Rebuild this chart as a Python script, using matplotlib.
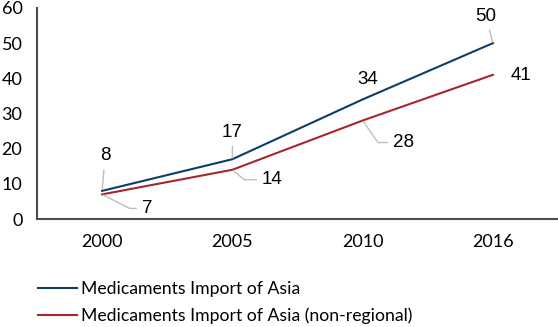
import numpy as np
import matplotlib
matplotlib.use("Agg")
from matplotlib import pyplot as plt

# data
years = ["2000", "2005", "2010", "2016"]
asia_total = [8, 17, 34, 50]
asia_non_regional = [7, 14, 28, 41]
series_names = ["Medicaments Import of Asia",
                "Medicaments Import of Asia (non-regional)"]

BLUE = "#0f3d66"
RED = "#a6262b"
LEADER = "#bfbfbf"
AXIS = "#4d4d4d"
TICK_FONT = "Lato"
LABEL_FONT = "Liberation Sans"

fig = plt.figure(figsize=(5.58, 3.27), dpi=100)
ax = fig.add_axes([37 / 558, 1 - 219 / 327, 521 / 558, 211 / 327])

x = np.arange(len(years))
ax.plot(x, asia_total, color=BLUE, lw=1.5, label=series_names[0])
ax.plot(x, asia_non_regional, color=RED, lw=1.5, label=series_names[1])

ax.set_xlim(-0.5, len(years) - 0.5)
ax.set_ylim(0, 60)
ax.set_yticks(range(0, 61, 10))
ax.set_xticks(x)
ax.set_xticklabels(years)
ax.tick_params(length=0, labelsize=13, colors="black")
ax.tick_params(axis="y", pad=10.5)
ax.tick_params(axis="x", pad=11)
for lab in ax.get_xticklabels() + ax.get_yticklabels():
    lab.set_fontfamily(TICK_FONT)

for side in ["top", "right"]:
    ax.spines[side].set_visible(False)
for side in ["left", "bottom"]:
    ax.spines[side].set_color(AXIS)
    ax.spines[side].set_linewidth(1.5)

# label offsets (pixels) and leader style per point
# (dx, dy, connection) ; connection None -> no leader line
total_labels = [(3, 35, "arc3"), (0, 27, "arc3"), (5, 20, None), (-7, 27, "arc3")]
non_reg_labels = [(45, -14, "angle,angleA=180,angleB=-27,rad=0"),
                  (40, -10, "angle,angleA=180,angleB=-40,rad=0"),
                  (41, -22, "angle,angleA=180,angleB=-55,rad=0"),
                  (28, -1, None)]

for values, labels in [(asia_total, total_labels), (asia_non_regional, non_reg_labels)]:
    for xi, v, (dx, dy, conn) in zip(x, values, labels):
        kw = {}
        if conn is not None:
            kw["arrowprops"] = dict(arrowstyle="-", color=LEADER, lw=1,
                                    connectionstyle=conn, shrinkA=2, shrinkB=1)
        ax.annotate(str(v), (xi, v), xytext=(dx, dy), textcoords="offset pixels",
                    ha="center", va="center", fontsize=13.5,
                    fontfamily=LABEL_FONT, **kw)

fig.legend(loc="upper left", bbox_to_anchor=(22 / 558, 1 - 265 / 327),
           frameon=False, handlelength=2.2, handletextpad=0.25,
           labelspacing=0.62, prop={"family": TICK_FONT, "size": 12.7})

fig.savefig("out.png", dpi=100)
